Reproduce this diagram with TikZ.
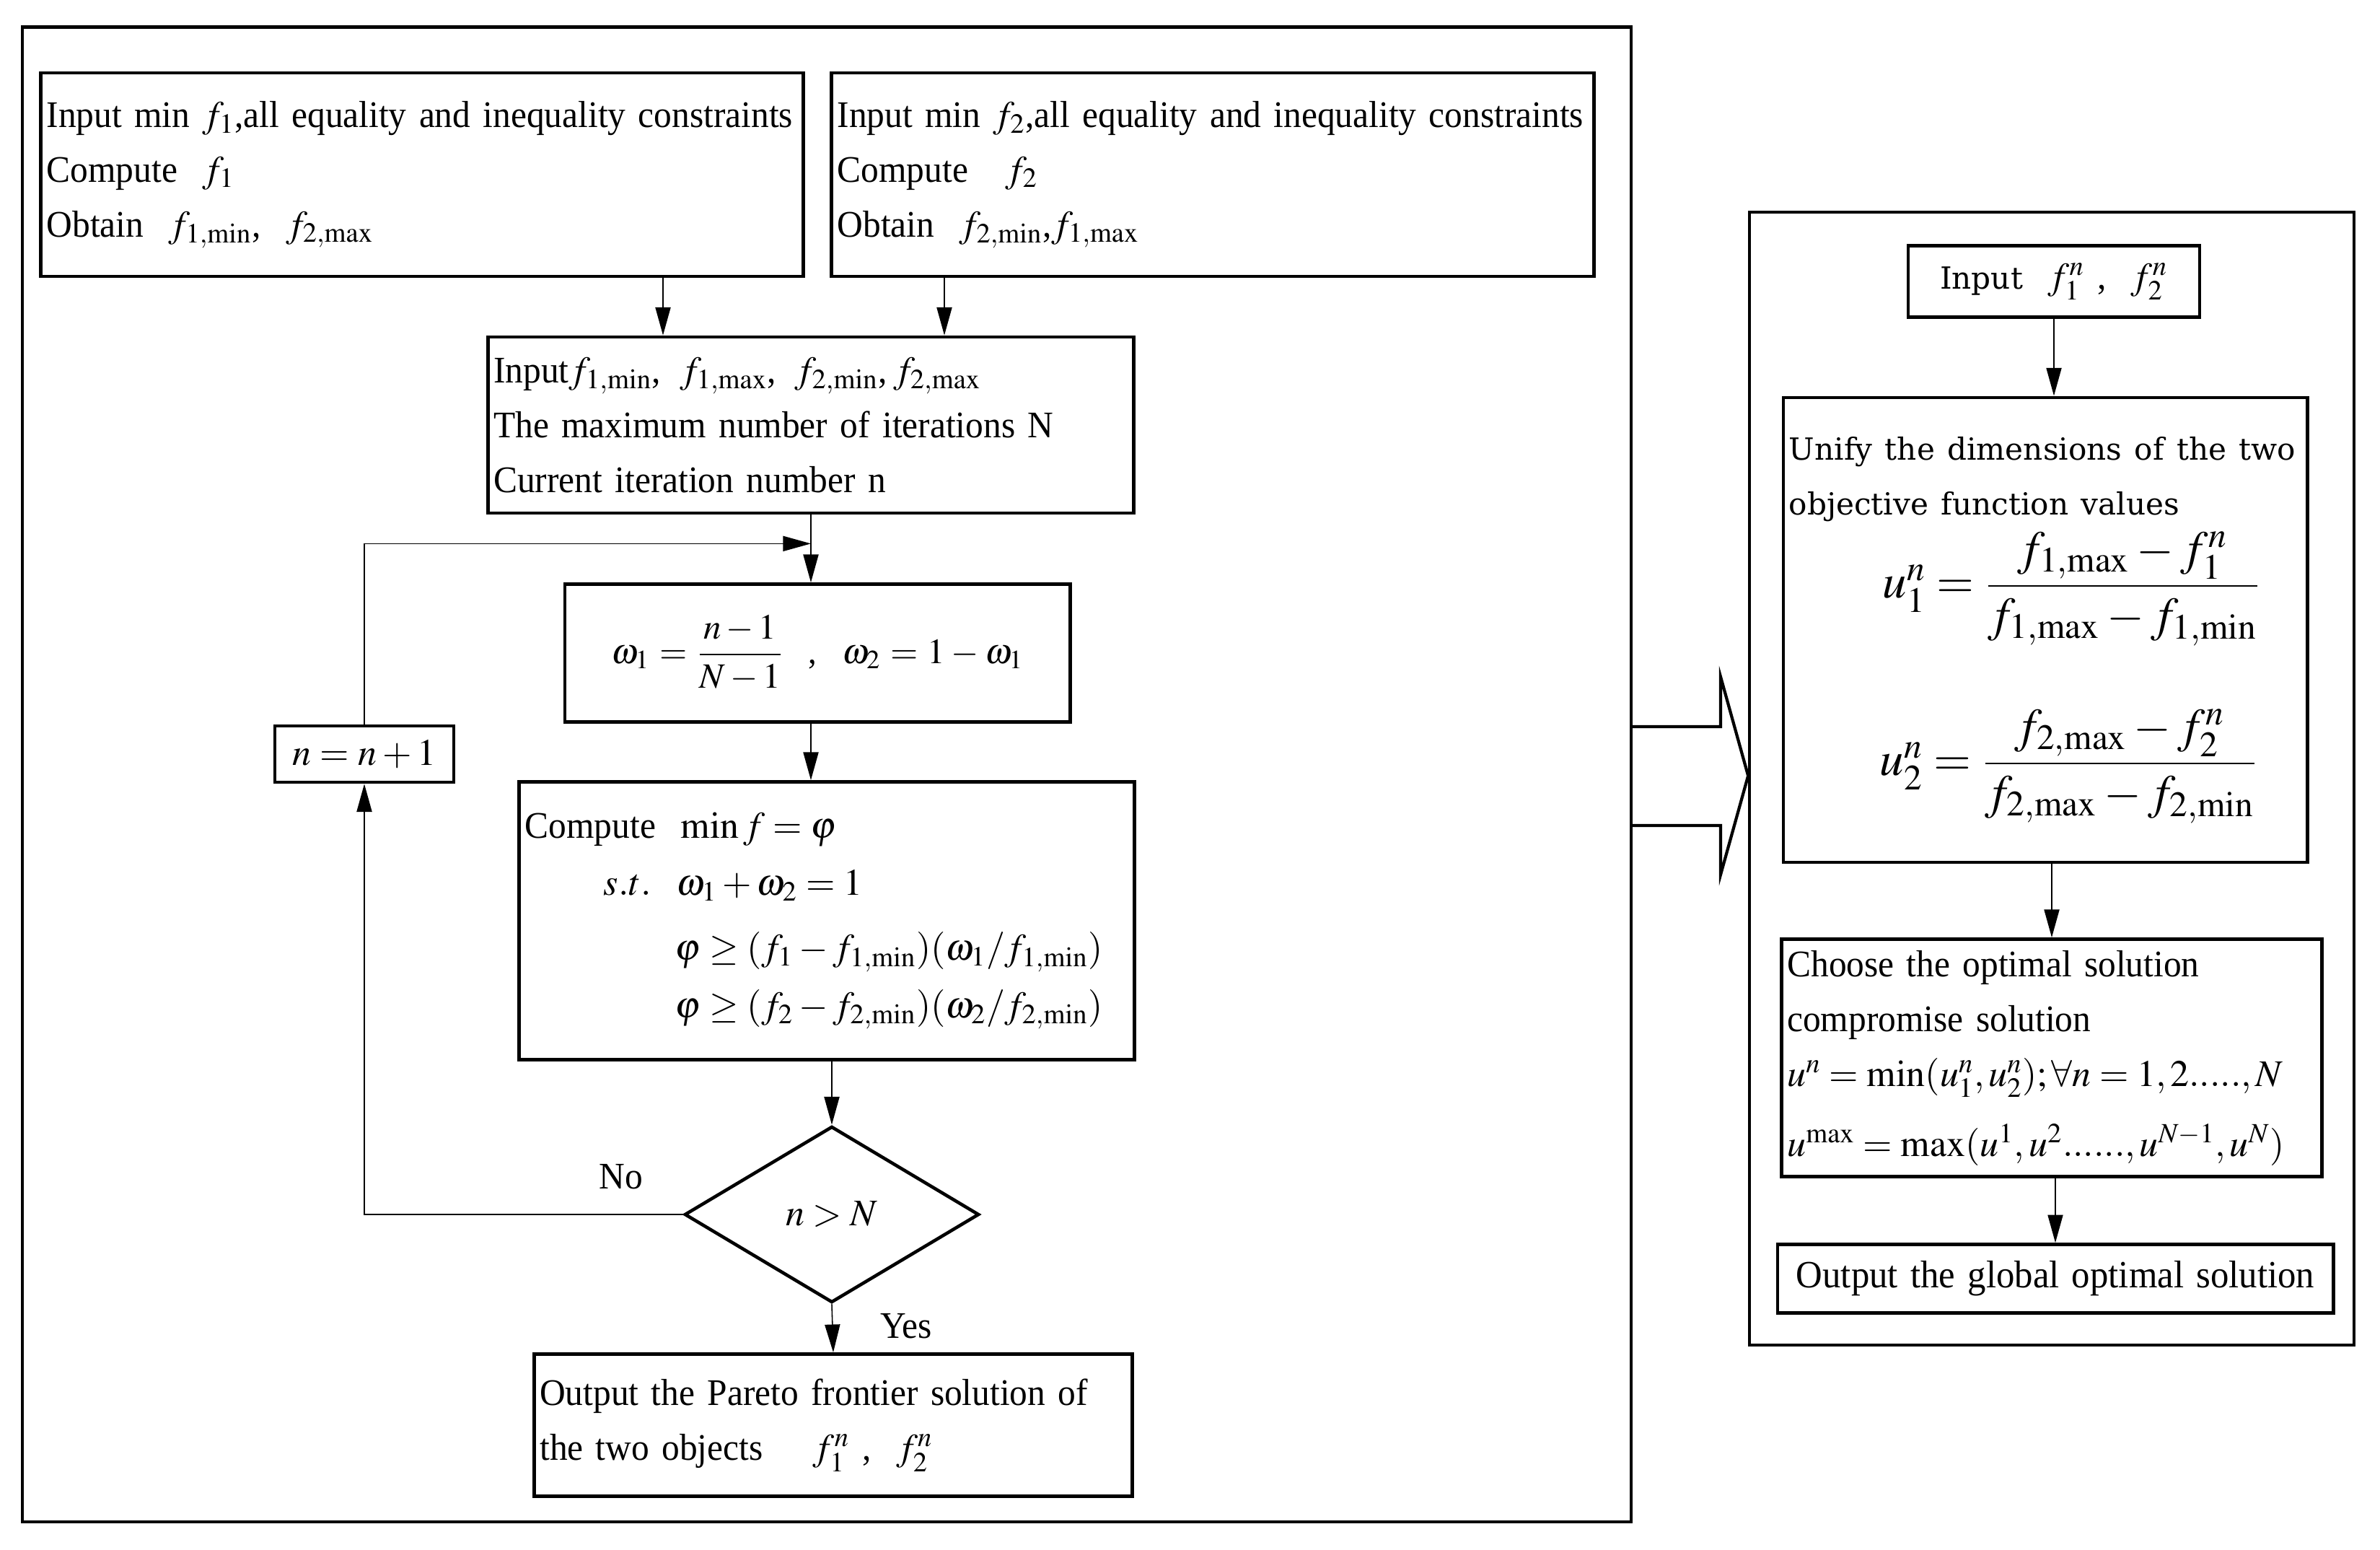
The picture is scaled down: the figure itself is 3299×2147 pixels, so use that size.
\documentclass[tikz,border=0pt]{standalone}
\usepackage{amsmath}
\usepackage{mathptmx}
\usepackage[no-math]{fontspec}
\setmainfont{Liberation Serif}[FakeStretch=0.95]
\newfontfamily\centfont{DejaVu Serif}
\usetikzlibrary{arrows.meta,positioning,shapes.geometric,calc}
\hyphenpenalty=10000
\exhyphenpenalty=10000
\tikzset{
  box/.style={draw, rectangle, line width=1.3pt, inner ysep=0pt, inner xsep=0.08cm, align=left},
  panel/.style={draw, rectangle, line width=1.2pt, inner sep=0pt},
  test/.style={draw, diamond, line width=1.3pt, inner sep=0pt},
  link/.style={-{Triangle[length=11pt, width=6pt]}, line width=0.45pt},
  wire/.style={line width=0.45pt},
  fat/.style={line width=1.2pt, line join=miter},
  lbl/.style={inner sep=0pt},
}
\newcommand{\fmin}[1]{f_{#1,\mathrm{min}}}
\newcommand{\fmax}[1]{f_{#1,\mathrm{max}}}
\newcommand{\bigeq}{\fontsize{19}{22}\selectfont}
\newcommand{\wide}{\centfont\fontsize{12}{15.6}\selectfont}
\begin{document}
\begin{tikzpicture}[x=0.01cm, y=-0.01cm, font=\fontsize{14.8}{21.6}\selectfont]
\useasboundingbox (0,0) rectangle (3299,2147);

% left panel: weighted min-max loop
\node[panel, minimum width=22.28cm, minimum height=20.70cm] (panL) at (1146,1073) {};
\node[box, text width=10.40cm, minimum height=2.82cm] (A) at (585,242)
  {\mbox{Input min $f_1$,all equality and inequality constraints}\\ Compute \ $f_1$\\ Obtain \ $\fmin{1}$, \ $\fmax{2}$};
\node[box, text width=10.40cm, minimum height=2.82cm] (B) at (1681,242)
  {\mbox{Input min $f_2$,all equality and inequality constraints}\\ Compute \ \ $f_2$\\ Obtain \ $\fmin{2}$,$\fmax{1}$};
\node[box, text width=8.79cm, minimum height=2.44cm] (C) at (1124,589)
  {Input$\fmin{1}$,\, $\fmax{1}$,\, $\fmin{2}$,\,$\fmax{2}$\\ The maximum number of iterations N\\ Current iteration number n};
\node[box, align=center, text width=6.84cm, minimum height=1.91cm] (D) at (1133,905)
  {\fontsize{14}{20}\selectfont$\omega_1=\dfrac{n-1}{N-1}$ \ , \ $\omega_2=1-\omega_1$};
\node[box, text width=8.36cm, minimum height=3.85cm] (E) at (1146,1276)
  {Compute \ $\min f=\varphi$\\[1pt]
   \hspace*{1.09cm}$s.t.$ \ $\omega_1+\omega_2=1$\\[4pt]
   \hspace*{2.08cm}$\varphi\geq(f_1-\fmin{1})(\omega_1/\fmin{1})$\\[1pt]
   \hspace*{2.08cm}$\varphi\geq(f_2-\fmin{2})(\omega_2/\fmin{2})$};
\node[test, minimum width=4.08cm, minimum height=2.44cm] (dia) at (1153,1683) {$n>N$};
\node[box, text width=8.13cm, minimum height=1.97cm] (F) at (1155,1975)
  {Output the Pareto frontier solution of\\ the two objects \quad $f_1^n$ , \ $f_2^n$};
\node[box, align=center, text width=2.32cm, minimum height=0.78cm] (G) at (505,1045) {$n=n+1$};
\node[lbl] (no) at ($(dia.west)+(-86,-52)$) {No};
\node[lbl] (yes) at ($(dia.south)+(103,30)$) {Yes};

\coordinate (a1) at ($(A.south)+(334,0)$);
\coordinate (b1) at ($(B.south)+(-372,0)$);
\coordinate (M) at ($(C.south)+(0,40)$);
\draw[link] (a1) -- (a1 |- C.north);
\draw[link] (b1) -- (b1 |- C.north);
\draw[link] (C.south) -- (C.south |- D.north);
\draw[link] (C.south |- D.south) -- (C.south |- E.north);
\draw[link] (dia.north |- E.south) -- (dia.north);
\draw[link] (dia.south) -- (F.north);
\draw[link] (dia.west) -| (G.south);
\draw[link] (G.north) |- (M);

% right panel: compromise solution
\node[panel, minimum width=8.37cm, minimum height=15.69cm] (panR) at (2844,1079) {};
\node[box, align=center, text width=3.88cm, minimum height=0.99cm] (H) at (2847,390)
  {{\wide Input} \ $f_1^n$ , \ $f_2^n$};
\node[box, text width=7.10cm, minimum height=6.44cm] (I) at (2835,873)
  {{\wide\mbox{Unify the dimensions of the two}\\ objective function values}\\[3pt]
   \hspace*{1.3cm}{\bigeq$u_1^n=\dfrac{\fmax{1}-f_1^n}{\fmax{1}-\fmin{1}}$}\\[24pt]
   \hspace*{1.26cm}{\bigeq$u_2^n=\dfrac{\fmax{2}-f_2^n}{\fmax{2}-\fmin{2}}$}};
\node[box, text width=7.33cm, minimum height=3.29cm] (J) at (2844,1466)
  {Choose the optimal solution\\ compromise solution\\
   $u^n=\min(u_1^n,u_2^n);\forall n=1,2.....,N$\\[6pt]
   $u^{\mathrm{max}}=\max(u^1,u^2......,u^{N-1},u^N)$};
\node[box, align=center, text width=7.54cm, minimum height=0.95cm] (K) at (2849,1772)
  {\fontsize{15.2}{21.6}\selectfont Output the global optimal solution};
\draw[link] (H.south) -- (H.south |- I.north);
\draw[link] (J.north |- I.south) -- (J.north);
\draw[link] (K.north |- J.south) -- (K.north);

% hollow arrow between the panels
\draw[fat] (panL.east |- 0,1007) -- (2385,1007) -- (2385,938) -- (panR.west |- 0,1075)
  -- (2385,1212) -- (2385,1144) -- (panL.east |- 0,1144);
\end{tikzpicture}
\end{document}
